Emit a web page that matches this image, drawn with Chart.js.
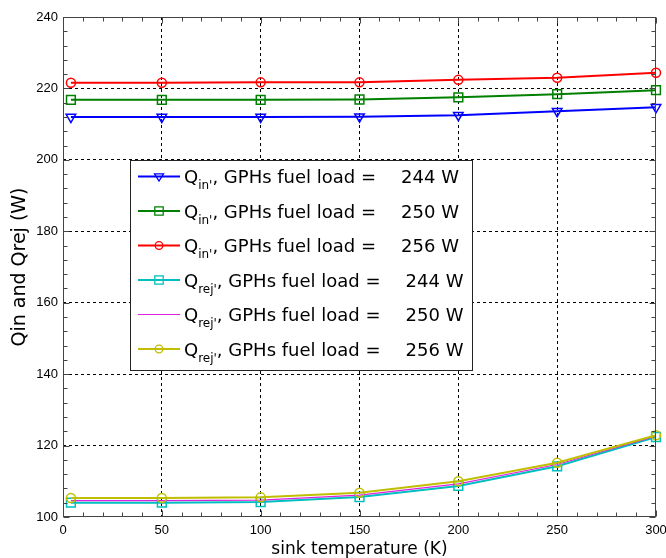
<!DOCTYPE html>
<html><head><meta charset="utf-8">
<script src="https://cdn.jsdelivr.net/npm/chart.js@4.4.1/dist/chart.umd.min.js"></script>
<style>html,body{margin:0;padding:0;background:#fff;}canvas{display:block;}</style>
</head><body>
<canvas id="c" width="666" height="558"></canvas>
<script>
// ---- data ----
const sinkTemp = [4, 50, 100, 150, 200, 250, 300];
const qin244  = [212.0, 212.0, 212.0, 212.1, 212.5, 213.6, 214.7];
const qin250  = [216.8, 216.8, 216.8, 216.9, 217.5, 218.4, 219.5];
const qin256  = [221.6, 221.6, 221.7, 221.7, 222.4, 223.0, 224.4];
const qrej244 = [104.0, 104.0, 104.2, 105.6, 108.7, 114.2, 122.4];
const qrej250 = [104.6, 104.6, 104.7, 106.1, 109.3, 114.7, 122.6];
const qrej256 = [105.3, 105.3, 105.5, 106.8, 110.0, 115.2, 122.9];
const xTicks = [0, 50, 100, 150, 200, 250, 300];
const yTicks = [100, 120, 140, 160, 180, 200, 220, 240];
const legendSub = ["in'", "in'", "in'", "rej'", "rej'", "rej'"];
const legendLoad = ["244 W", "250 W", "256 W", "244 W", "250 W", "256 W"];
const xTitle = "sink temperature (K)";
const yTitle = "Qin and Qrej (W)";

// ---- styles ----
const seriesValues = [qin244, qin250, qin256, qrej244, qrej250, qrej256];
const seriesColor = ['#0000ff', '#008000', '#ff0000', '#00bfbf', '#dd22dd', '#bfbf00'];
const seriesMarker = ['triangle', 'rect', 'circle', 'rect', false, 'circle'];
const seriesRadius = [5.5, 6.2, 4.5, 6.2, 0, 4.5];
const seriesWidth = [2, 2, 2, 2, 1.2, 2];

const datasets = seriesValues.map((vals, i) => ({
  label: legendSub[i] + ' ' + legendLoad[i],
  data: sinkTemp.map((t, k) => ({x: t, y: vals[k]})),
  borderColor: seriesColor[i],
  borderWidth: seriesWidth[i],
  pointStyle: seriesMarker[i],
  pointRadius: seriesRadius[i],
  pointRotation: seriesMarker[i] === 'triangle' ? 180 : 0,
  pointBorderColor: seriesColor[i],
  pointBackgroundColor: 'rgba(0,0,0,0)',
  pointBorderWidth: 1.5,
  tension: 0,
  clip: false,
  order: 6 - i
}));

function drawMarker(ctx, style, x, y, r, color) {
  ctx.save();
  ctx.strokeStyle = color; ctx.lineWidth = 1.3;
  ctx.beginPath();
  if (style === 'circle') {
    ctx.arc(x, y, r, 0, Math.PI * 2);
  } else if (style === 'rect') {
    ctx.rect(x - r, y - r, 2 * r, 2 * r);
  } else if (style === 'triangle') {
    ctx.moveTo(x - r, y - r * 0.6);
    ctx.lineTo(x + r, y - r * 0.6);
    ctx.lineTo(x, y + r * 1.0);
    ctx.closePath();
  }
  ctx.stroke();
  ctx.restore();
}

const framePlugin = {
  id: 'frame',
  afterDatasetsDraw(chart) {
    const ctx = chart.ctx, a = chart.chartArea;
    const xs = chart.scales.x, ys = chart.scales.y;
    ctx.save();
    ctx.strokeStyle = '#444'; ctx.lineWidth = 1;
    const L = Math.round(a.left) + 0.5, R = Math.round(a.right) - 0.5;
    const T = Math.round(a.top) + 0.5, B = Math.round(a.bottom) - 0.5;
    ctx.strokeRect(L, T, R - L, B - T);
    ctx.beginPath();
    const xStep = (xTicks[1] - xTicks[0]) / 5;
    for (let v = xTicks[0]; v <= xTicks[xTicks.length - 1] + 1e-9; v += xStep) {
      const px = Math.round(xs.getPixelForValue(v)) + 0.5;
      const len = (Math.abs(v % (xTicks[1] - xTicks[0])) < 1e-6) ? 6 : 4;
      ctx.moveTo(px, B); ctx.lineTo(px, B - len);
      ctx.moveTo(px, T); ctx.lineTo(px, T + len);
    }
    const yStep = (yTicks[1] - yTicks[0]) / 5;
    for (let v = yTicks[0]; v <= yTicks[yTicks.length - 1] + 1e-9; v += yStep) {
      const py = Math.round(ys.getPixelForValue(v)) + 0.5;
      const len = (Math.abs((v - yTicks[0]) % (yTicks[1] - yTicks[0])) < 1e-6) ? 6 : 4;
      ctx.moveTo(L, py); ctx.lineTo(L + len, py);
      ctx.moveTo(R, py); ctx.lineTo(R - len, py);
    }
    ctx.stroke();
    ctx.restore();
  },
  afterDraw(chart) {
    const ctx = chart.ctx;
    const box = {l: 130.5, t: 160.5, r: 472.5, b: 370.5};
    ctx.save();
    ctx.fillStyle = '#fff';
    ctx.fillRect(box.l, box.t, box.r - box.l, box.b - box.t);
    ctx.strokeStyle = '#222'; ctx.lineWidth = 1;
    ctx.strokeRect(box.l, box.t, box.r - box.l, box.b - box.t);
    const rowY0 = 176.5, rowDy = 34.5;
    const mainFont = '18px "DejaVu Sans"';
    const subFont = '12px "DejaVu Sans"';
    for (let i = 0; i < datasets.length; i++) {
      const y = rowY0 + i * rowDy;
      ctx.strokeStyle = seriesColor[i];
      ctx.lineWidth = seriesWidth[i] > 1.5 ? 1.8 : 1.2;
      ctx.beginPath(); ctx.moveTo(138, y); ctx.lineTo(180, y); ctx.stroke();
      if (seriesMarker[i]) {
        const r = seriesMarker[i] === 'circle' ? 3.8 : (seriesMarker[i] === 'rect' ? 4.2 : 4.5);
        drawMarker(ctx, seriesMarker[i], 159, y, r, seriesColor[i]);
      }
      ctx.fillStyle = '#000';
      ctx.textBaseline = 'alphabetic';
      ctx.textAlign = 'left';
      const base = y + 6.5;
      let x = 184;
      ctx.font = mainFont;
      ctx.fillText('Q', x, base);
      x += ctx.measureText('Q').width;
      ctx.font = subFont;
      ctx.fillText(legendSub[i], x, base + 6);
      x += ctx.measureText(legendSub[i]).width;
      ctx.font = mainFont;
      const label = ', GPHs fuel load =';
      ctx.fillText(label, x, base);
      x += ctx.measureText(label).width;
      ctx.fillText(legendLoad[i], x + 25, base);
    }
    ctx.restore();
  }
};

new Chart(document.getElementById('c'), {
  type: 'line',
  data: {datasets},
  options: {
    responsive: false,
    animation: false,
    layout: {padding: {left: 0, right: 10, top: 17, bottom: 0}},
    plugins: {legend: {display: false}, tooltip: {enabled: false}},
    scales: {
      x: {
        type: 'linear',
        min: xTicks[0], max: xTicks[xTicks.length - 1],
        afterBuildTicks: s => { s.ticks = xTicks.map(v => ({value: v})); },
        afterFit: s => { s.height = 41; s.paddingLeft = 0; s.paddingRight = 0; },
        grid: {
          drawTicks: false,
          color: c => (c.tick && (c.tick.value === xTicks[0] || c.tick.value === xTicks[xTicks.length - 1])) ? 'rgba(0,0,0,0)' : '#000',
          lineWidth: 1
        },
        border: {display: false, dash: [3, 3]},
        ticks: {color: '#000', font: {family: '"Liberation Sans", Arial', size: 13}, padding: 6, maxRotation: 0, autoSkip: false},
        title: {display: true, text: xTitle, color: '#000', font: {family: '"DejaVu Sans"', size: 17, lineHeight: 1}, padding: {top: 0, bottom: 0}}
      },
      y: {
        type: 'linear',
        min: yTicks[0], max: yTicks[yTicks.length - 1],
        afterBuildTicks: s => { s.ticks = yTicks.map(v => ({value: v})); },
        afterFit: s => { s.width = 63; s.paddingTop = 0; s.paddingBottom = 0; },
        grid: {
          drawTicks: false,
          color: c => (c.tick && (c.tick.value === yTicks[0] || c.tick.value === yTicks[yTicks.length - 1])) ? 'rgba(0,0,0,0)' : '#000',
          lineWidth: 1
        },
        border: {display: false, dash: [3, 3]},
        ticks: {color: '#000', font: {family: '"Liberation Sans", Arial', size: 13}, padding: 5, autoSkip: false},
        title: {display: true, text: yTitle, color: '#000', font: {family: '"DejaVu Sans"', size: 19, lineHeight: 1.2}, padding: {top: 9, bottom: 0}}
      }
    }
  },
  plugins: [framePlugin]
});
</script>
</body></html>
